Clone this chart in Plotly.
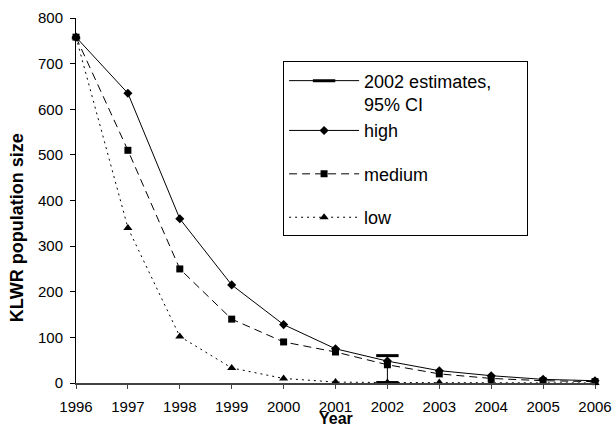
import plotly.graph_objects as go

years = [1996, 1997, 1998, 1999, 2000, 2001, 2002, 2003, 2004, 2005, 2006]
high = [758, 635, 360, 215, 128, 75, 48, 27, 16, 8, 5]
medium = [758, 510, 250, 140, 90, 68, 40, 20, 10, 5, 3]
low = [758, 340, 102, 33, 10, 2, 1, 1, 0, 0, 0]

est_years = [2002, 2002]
est_ci = [60, 1]          # 95% CI bounds of the 2002 estimate
est_below = [0, 24]       # part of the interval falling below zero

y_ticks = [0, 100, 200, 300, 400, 500, 600, 700, 800]

FONT = "Arial, Liberation Sans, sans-serif"

fig = go.Figure()

fig.add_trace(go.Scatter(
    x=est_years, y=est_ci, mode="lines+markers",
    name="2002 estimates," + "&nbsp;" * 6 + "<br>95% CI",
    line=dict(color="black", width=1),
    marker=dict(symbol="line-ew", size=16, color="black",
                line=dict(color="black", width=3)),
    error_y=dict(type="data", symmetric=False, array=[0, 0],
                 arrayminus=est_below, width=0, thickness=1, color="black"),
    cliponaxis=False, legendgroup="g1",
))
fig.add_trace(go.Scatter(
    x=years, y=high, mode="lines+markers", name="high",
    line=dict(color="black", width=1),
    marker=dict(symbol="diamond", size=7, color="black"),
    cliponaxis=False, legendgroup="g1",
))
fig.add_trace(go.Scatter(
    x=years, y=medium, mode="lines+markers", name="medium",
    line=dict(color="black", width=1, dash="8px,5px"),
    marker=dict(symbol="square", size=7, color="black"),
    cliponaxis=False, legendgroup="g2",
))
fig.add_trace(go.Scatter(
    x=years, y=low, mode="lines+markers", name="low",
    line=dict(color="black", width=1, dash="2px,4px"),
    marker=dict(symbol="triangle-up", size=8, color="black"),
    cliponaxis=False, legendgroup="g3",
))

fig.update_layout(
    width=616, height=428,
    margin=dict(l=76, r=21, t=18, b=45, autoexpand=False),
    paper_bgcolor="white", plot_bgcolor="white",
    font=dict(family=FONT, color="black", size=15),
    showlegend=True,
    legend=dict(
        x=0.399, y=0.881, xanchor="left", yanchor="top",
        bgcolor="white", bordercolor="black", borderwidth=1,
        font=dict(family=FONT, size=18, color="black"),
        traceorder="grouped", tracegroupgap=17, valign="top",
        itemwidth=70, itemsizing="trace",
    ),
    xaxis=dict(
        range=[1996, 2006], tickmode="array", tickvals=years,
        ticktext=[str(y) for y in years],
        showgrid=False, zeroline=False,
        showline=True, linecolor="#444", linewidth=2,
        ticks="outside", ticklen=4, tickcolor="#444", tickwidth=1,
        ticklabelstandoff=5,
        tickfont=dict(family=FONT, size=15),
        automargin=False,
    ),
    yaxis=dict(
        range=[0, 800], tickmode="array", tickvals=y_ticks,
        showgrid=False, zeroline=False,
        showline=True, linecolor="black", linewidth=1,
        ticks="outside", ticklen=5, tickcolor="black", tickwidth=1,
        ticklabelstandoff=4,
        tickfont=dict(family=FONT, size=15),
        automargin=False,
    ),
    annotations=[
        dict(text="<b>Year</b>", xref="paper", yref="paper",
             x=0.5, y=-0.1225, xanchor="center", yanchor="bottom",
             showarrow=False, borderpad=0,
             font=dict(family=FONT, size=16, color="black")),
        dict(text="<b>KLWR population size</b>", xref="paper", yref="paper",
             x=-0.1137, y=0.427, xanchor="center", yanchor="middle", textangle=-90,
             showarrow=False, font=dict(family=FONT, size=18, color="black")),
    ],
)

fig.write_html("out.html", config={"displayModeBar": False},
               post_script="document.body.style.margin='0px';")
